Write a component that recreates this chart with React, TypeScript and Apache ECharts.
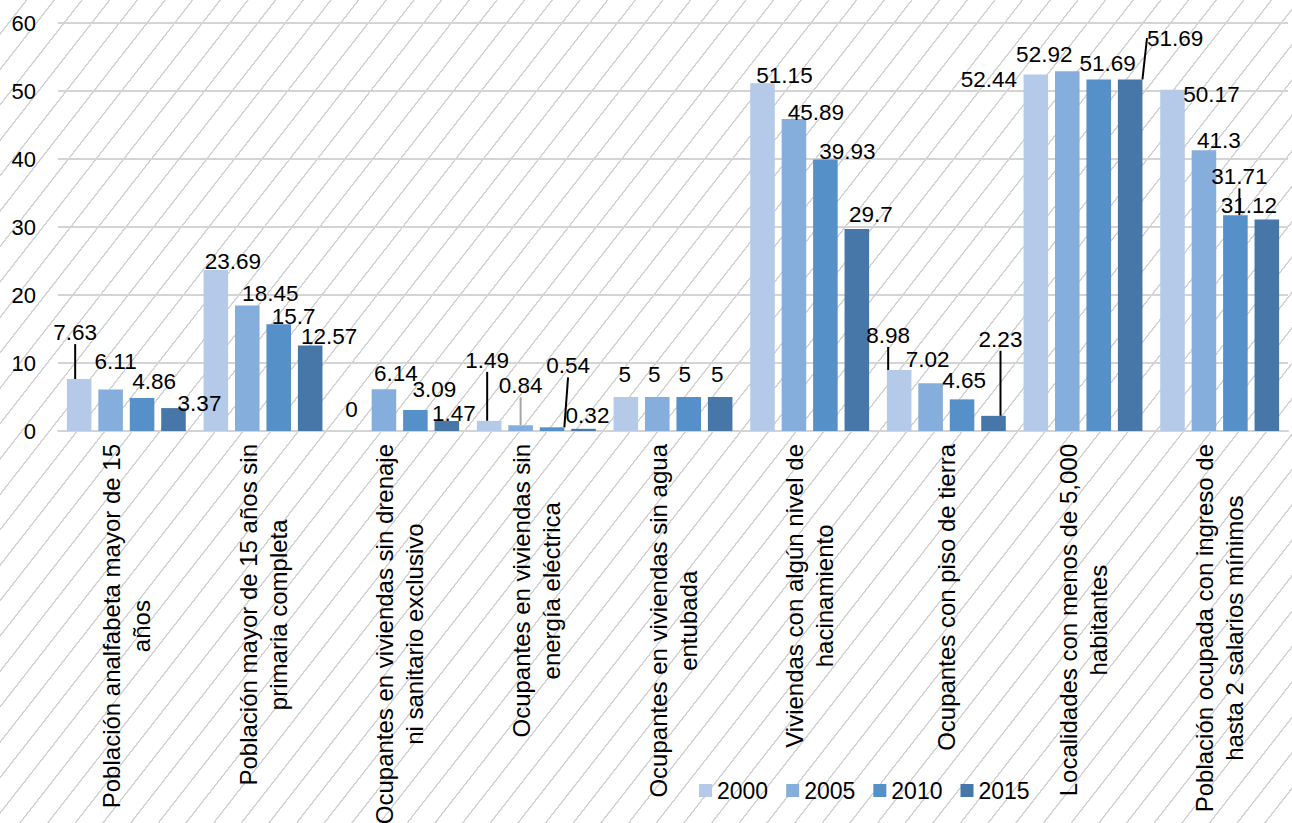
import React, { useEffect, useRef } from "react";
import * as echarts from "echarts";

const categories = [
  "Población analfabeta mayor de 15\naños",
  "Población mayor de 15 años sin\nprimaria completa",
  "Ocupantes en viviendas sin drenaje\nni sanitario exclusivo",
  "Ocupantes en viviendas sin\nenergía eléctrica",
  "Ocupantes en viviendas sin agua\nentubada",
  "Viviendas con algún nivel de\nhacinamiento",
  "Ocupantes con piso de tierra",
  "Localidades con menos de 5,000\nhabitantes",
  "Población ocupada con ingreso de\nhasta 2 salarios mínimos",
];

const seriesNames = ["2000", "2005", "2010", "2015"];
const values2000 = [7.63, 23.69, 0, 1.49, 5, 51.15, 8.98, 52.44, 50.17];
const values2005 = [6.11, 18.45, 6.14, 0.84, 5, 45.89, 7.02, 52.92, 41.3];
const values2010 = [4.86, 15.7, 3.09, 0.54, 5, 39.93, 4.65, 51.69, 31.71];
const values2015 = [3.37, 12.57, 1.47, 0.32, 5, 29.7, 2.23, 51.69, 31.12];
const yTicks = [0, 10, 20, 30, 40, 50, 60];

const colors = ["#B4CAE8", "#86AEDC", "#5590C8", "#4677A8"];

// label offsets (dx, dy) from default 'top' position, per series / category
const labelOffsets: number[][][] = [
  [[-4, -30], [17, 8], [-1, -5], [-2, -44], [-1, -6], [22, 9], [-11, -18], [-47, 22], [39, 21]],
  [[5, -11], [23, 4], [12, 1], [0, -23], [-3, -6], [22, 10], [-3, -7], [-23, 0], [15, 7]],
  [[12, 0], [15, 9], [19, -4], [16, -45], [-4, -6], [22, 9], [2, -2], [9, 0], [4, -22]],
  [[26, 12], [19, 7], [7, 9], [4, 3], [-3, -6], [14, 2], [7, -60], [45, -25], [-18, 3]],
];
// which labels carry a leader line (series, category, color)
const leaderLines: [number, number, string][] = [
  [0, 0, "#000"],
  [0, 3, "#000"],
  [1, 3, "#A6A6A6"],
  [2, 3, "#000"],
  [0, 6, "#000"],
  [3, 6, "#000"],
  [3, 7, "#000"],
  [2, 8, "#000"],
];

const allValues = [values2000, values2005, values2010, values2015];

export default function App() {
  const ref = useRef<HTMLDivElement>(null);
  useEffect(() => {
    if (!ref.current) return;
    document.documentElement.style.overflow = "hidden";
    document.body.style.overflow = "hidden";
    document.body.style.margin = "0";
    const chart = echarts.init(ref.current, undefined, { renderer: "svg" });
    const font = "'Liberation Sans', Arial, sans-serif";
    const series = allValues.map((vals, si) => ({
      name: seriesNames[si],
      type: "bar",
      barGap: "28%",
      barCategoryGap: "13%",
      itemStyle: { color: colors[si] },
      label: {
        show: true,
        position: "top",
        distance: 5,
        color: "#000",
        fontSize: 22.5,
        fontFamily: font,
      },
      labelLine: { show: false },
      labelLayout: (p: any) => {
        const o = labelOffsets[si][p.dataIndex];
        return { dx: o[0], dy: o[1] };
      },
      data: vals.map((v, ci) => {
        const ll = leaderLines.find((l) => l[0] === si && l[1] === ci);
        const item: any = { value: v };
        if (ll) {
          item.labelLine = {
            show: true,
            length2: 0,
            minTurnAngle: 0,
            lineStyle: { color: ll[2], width: 2 },
          };
        }
        return item;
      }),
    }));
    chart.setOption({
      animation: false,
      grid: {
        left: 58,
        right: 4,
        top: 23,
        bottom: 392,
        containLabel: false,
        outerBoundsMode: "none",
      },
      legend: {
        data: seriesNames,
        left: 694,
        top: 774,
        icon: "rect",
        itemWidth: 13,
        itemHeight: 13,
        itemGap: 18,
        textStyle: { fontSize: 23, color: "#000", fontFamily: font },
      },
      xAxis: {
        type: "category",
        data: categories,
        axisLine: { show: true, lineStyle: { color: "#D4D4D4", width: 2 } },
        axisTick: { show: false },
        axisLabel: {
          rotate: 90,
          interval: 0,
          margin: 13,
          color: "#000",
          fontSize: 24,
          fontFamily: font,
          lineHeight: 30,
          formatter: (v: string) =>
            v
              .split("\n")
              .map((l) => `{c|${l}}`)
              .join("\n"),
          rich: {
            c: {
              align: "center",
              fontSize: 24,
              lineHeight: 30,
              color: "#000",
              fontFamily: font,
            },
          },
        },
      },
      yAxis: {
        type: "value",
        min: yTicks[0],
        max: yTicks[yTicks.length - 1],
        interval: 10,
        axisLine: { show: false },
        axisTick: { show: false },
        splitLine: { lineStyle: { color: "#D4D4D4", width: 2 } },
        axisLabel: {
          margin: 22,
          color: "#000",
          fontSize: 22,
          fontFamily: font,
        },
      },
      series,
    });
    return () => chart.dispose();
  }, []);
  return (
    <div
      style={{
        position: "absolute",
        left: 0,
        top: 0,
        width: 1292,
        height: 823,
        overflow: "hidden",
        backgroundColor: "#fff",
        backgroundImage:
          "repeating-linear-gradient(128deg, rgba(255,255,255,0) 0px, rgba(255,255,255,0) 20.2px, #D2D2D2 20.4px, #D2D2D2 21.6px, rgba(255,255,255,0) 21.8px)",
      }}
    >
      <div ref={ref} style={{ width: 1292, height: 823, overflow: "hidden" }} />
    </div>
  );
}
